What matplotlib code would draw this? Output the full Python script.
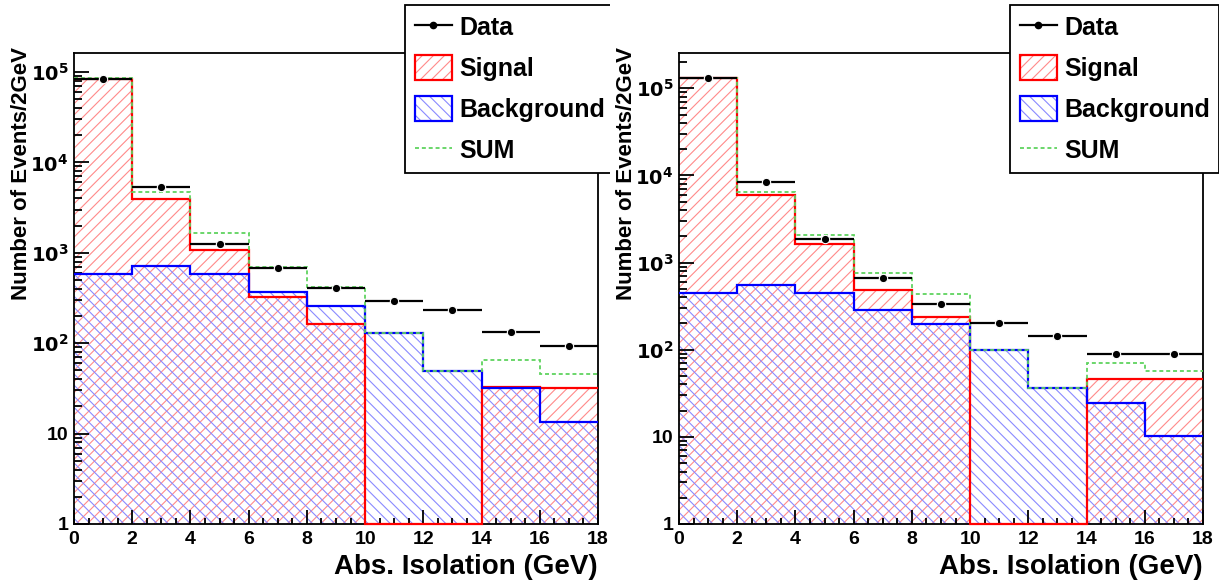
import numpy as np
import matplotlib
matplotlib.use("Agg")
import matplotlib.pyplot as plt
from matplotlib.patches import Patch
from matplotlib.lines import Line2D
from matplotlib.legend_handler import HandlerTuple
from matplotlib.ticker import LogLocator, FuncFormatter, MultipleLocator
from matplotlib.transforms import Bbox, TransformedBbox

plt.rcParams['font.family'] = ['Liberation Sans', 'DejaVu Sans']
plt.rcParams['font.weight'] = 'bold'
plt.rcParams['mathtext.default'] = 'bf'
plt.rcParams['hatch.linewidth'] = 0.8

# bin edges (GeV)
edges = [0, 2, 4, 6, 8, 10, 12, 14, 16, 18]
centers = [1, 3, 5, 7, 9, 11, 13, 15, 17]

# left panel
left_signal = [84300, 3940, 1074, 327, 163, 0, 0, 32.5, 32.2]
left_bkg = [583, 720, 583, 368, 256, 131, 48.9, 32, 13.4]
left_data = [84300, 5350, 1260, 679, 408, 291, 231, 134, 93]

# right panel
right_signal = [130000, 5940, 1614, 482, 238, 0, 0, 46.7, 46.7]
right_bkg = [449, 555, 449, 284, 198, 99.5, 36.8, 24.3, 10.2]
right_data = [130000, 8440, 1857, 657, 333, 205, 143, 90.4, 88.9]

labels = ["Data", "Signal", "Background", "SUM"]
xlabel = "Abs. Isolation (GeV)"
ylabel = "Number of Events/2GeV"

W, H = 1219, 581
fig = plt.figure(figsize=(W / 100, H / 100), dpi=100)


def yfmt(v, pos):
    if v <= 1.5:
        return "1"
    n = int(round(np.log10(v)))
    if n == 1:
        return "10"
    return r"$\mathbf{10^{%d}}$" % n


def draw_panel(ax, sig, bkg, data, ytop):
    sig = np.array(sig, dtype=float)
    bkg = np.array(bkg, dtype=float)
    tot = sig + bkg
    sig_c = np.maximum(sig, 1)
    bkg_c = np.maximum(bkg, 1)

    # hatched fills
    ax.stairs(sig_c, edges, baseline=1, fill=True, facecolor='none',
              edgecolor='#ff8a8a', hatch='///', linewidth=0, zorder=1)
    ax.stairs(bkg_c, edges, baseline=1, fill=True, facecolor='none',
              edgecolor='#8a8aff', hatch='\\\\\\', linewidth=0, zorder=1)
    # outlines
    ax.stairs(sig_c, edges, baseline=None, color='red', linewidth=1.6,
              zorder=3, clip_on=False)
    ax.stairs(bkg_c, edges, baseline=None, color='blue', linewidth=1.6,
              zorder=3.1, clip_on=False)
    ax.stairs(tot, edges, baseline=None, color='#5fd35f', linewidth=1.3,
              linestyle=(0, (2.2, 1.6)), zorder=3.2)
    # data
    ax.errorbar(centers, data, xerr=1, fmt='o', color='black', ms=6,
                mec='white', mew=0.8, elinewidth=1.6, capsize=0, zorder=4,
                clip_on=False)

    ax.set_yscale('log')
    ax.set_xlim(0, 18)
    ax.set_ylim(1, ytop)
    ax.xaxis.set_major_locator(MultipleLocator(2))
    ax.xaxis.set_minor_locator(MultipleLocator(0.5))
    ax.yaxis.set_major_locator(LogLocator(base=10, numticks=10))
    ax.yaxis.set_minor_locator(LogLocator(base=10, subs=np.arange(2, 10), numticks=20))
    ax.yaxis.set_major_formatter(FuncFormatter(yfmt))
    ax.tick_params(which='both', direction='in', top=False, right=False,
                   width=1.3, labelsize=14)
    ax.tick_params(axis='y', which='major', length=11, pad=4)
    ax.tick_params(axis='y', which='minor', length=5.5)
    ax.tick_params(axis='x', which='major', length=10, pad=5)
    ax.tick_params(axis='x', which='minor', length=4.5)
    for lab in ax.get_xticklabels() + ax.get_yticklabels():
        lab.set_fontweight('bold')
    for s in ax.spines.values():
        s.set_linewidth(1.3)
    ax.set_xlabel(xlabel, fontsize=20, fontweight='bold', loc='right')
    ax.xaxis.set_label_coords(1.0, -0.063)


axL = fig.add_axes([74 / W, 1 - 524 / H, 524 / W, 471 / H])
axR = fig.add_axes([679 / W, 1 - 524 / H, 524 / W, 471 / H])
draw_panel(axL, left_signal, left_bkg, left_data, 1.62e5)
draw_panel(axR, right_signal, right_bkg, right_data, 2.54e5)

fig.text(22 / W, 1 - 47 / H, ylabel, rotation=90, ha='center', va='top',
         fontsize=16, fontweight='bold')
fig.text(627 / W, 1 - 47 / H, ylabel, rotation=90, ha='center', va='top',
         fontsize=16, fontweight='bold')

handles = [
    Line2D([], [], color='black', marker='o', ms=4.5, lw=1.6),
    (Patch(facecolor='none', edgecolor='#ff8a8a', hatch='///', lw=0),
     Patch(facecolor='none', edgecolor='red', lw=1.6)),
    (Patch(facecolor='none', edgecolor='#8a8aff', hatch='\\\\\\', lw=0),
     Patch(facecolor='none', edgecolor='blue', lw=1.6)),
    Line2D([], [], color='#5fd35f', lw=1.3, linestyle=(0, (2.2, 1.6))),
]

for x0, clip_right in [(405, 609.5), (1010, None)]:
    leg = fig.legend(handles, labels, loc='upper left',
                     bbox_to_anchor=(x0 / W, 1 - 5 / H), bbox_transform=fig.transFigure,
                     borderaxespad=0, prop={'weight': 'bold', 'size': 18},
                     frameon=True, fancybox=False, edgecolor='black',
                     framealpha=1, handlelength=1.5, handleheight=1.15,
                     handletextpad=0.28, labelspacing=0.6, borderpad=0.38,
                     handler_map={tuple: HandlerTuple(ndivide=1, pad=0)})
    leg.get_frame().set_linewidth(1.3)
    leg.set_zorder(10)
    if clip_right is not None:
        leg.get_frame().set_clip_box(TransformedBbox(Bbox([[0, 0], [clip_right / W, 1]]),
                                                     fig.transFigure))
        leg.get_frame().set_clip_on(True)

fig.savefig("out.png", dpi=100)
